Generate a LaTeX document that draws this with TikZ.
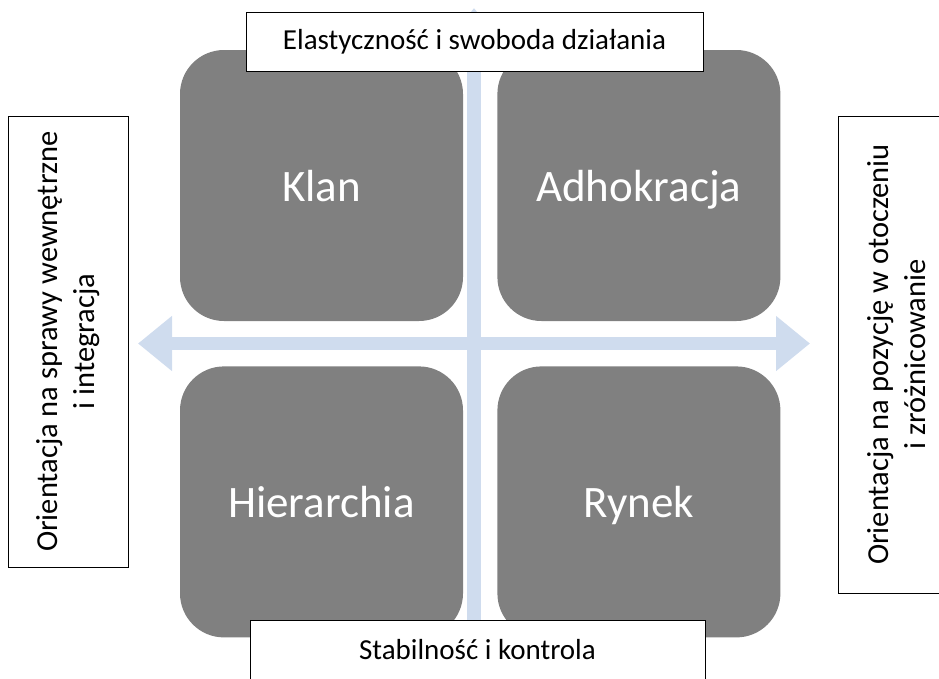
\documentclass[tikz,border=0pt]{standalone}
\usepackage{fontspec}
\setmainfont{Carlito}
\usetikzlibrary{arrows.meta,positioning}
\definecolor{osie}{RGB}{207,220,238}
\definecolor{szary}{RGB}{128,128,128}

\begin{document}
\begin{tikzpicture}[x=1pt,y=-1pt,
	kwadrat/.style={rectangle,fill=szary,rounded corners=44pt,minimum width=283pt,minimum height=271pt,text=white,text height=32pt,text depth=0pt,font=\fontsize{45}{52}\selectfont},
	opis/.style={rectangle,draw=black,fill=white,line width=1pt,font=\fontsize{29}{36}\selectfont,align=center},
	bok/.style={opis,rotate=90,font=\fontsize{30.5}{37}\selectfont},
	strzalka/.style={draw=osie,line width=13.5pt,{Triangle[length=34pt,width=53pt]}-{Triangle[length=34pt,width=53pt]}},
	node distance=34pt and 45pt]
		\useasboundingbox (0,0) rectangle (939,678);
		\coordinate (lewo) at (138,343.5);
		\coordinate (prawo) at (810,343.5);
		\coordinate (gora) at (474,8);
		\coordinate (dol) at (474,679);
		\path (lewo) edge[strzalka] (prawo);
		\path (gora) edge[strzalka] (dol);
		\node (kw1) [kwadrat] at (321.5,185.5) {Klan};
		\node (kw2) [kwadrat,right=34pt of kw1] {Adhokracja};
		\node (kw3) [kwadrat,below=45pt of kw1] {Hierarchia};
		\node (kw4) [kwadrat,below=45pt of kw2] {Rynek};
		% opisy osi
		\node (op1) [opis,minimum width=457pt,minimum height=59pt] at (474.5,41.5) {Elastyczność i swoboda działania};
		\node (op2) [opis,minimum width=455pt,minimum height=59pt] at (477.5,649.5) {Stabilność i kontrola};
		\node (op3) [bok,minimum width=451pt,minimum height=120pt] at (68,341.5) {Orientacja na sprawy wewnętrzne\\i integracja};
		\node (op4) [bok,minimum width=477pt,minimum height=118pt] at (897,354.5) {Orientacja na pozycję w otoczeniu\\i zróżnicowanie};
	\end{tikzpicture}
\end{document}
